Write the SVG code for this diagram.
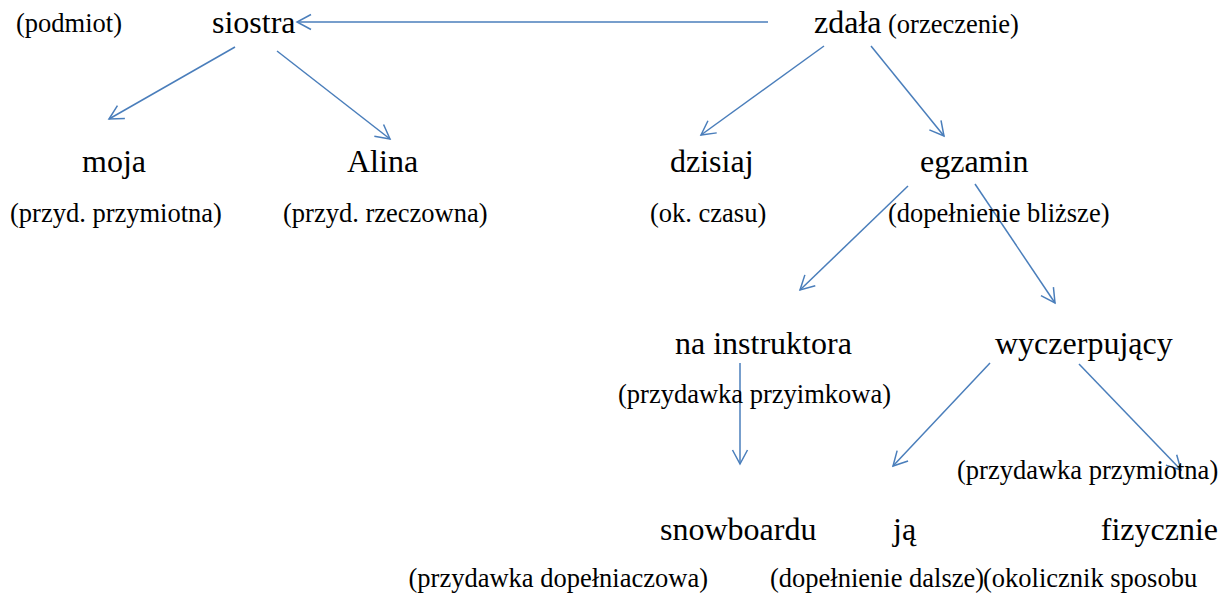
<svg xmlns="http://www.w3.org/2000/svg" width="1228" height="595" viewBox="0 0 1228 595">
<style>
.w{font-family:"Liberation Serif","Times New Roman",serif;font-size:32px;fill:#000}
.l{font-family:"Liberation Serif","Times New Roman",serif;font-size:26.5px;fill:#000}
.c{stroke:#4a7ebb;stroke-width:1.5;fill:none;marker-end:url(#ah)}
</style>
<defs>
<marker id="ah" markerUnits="userSpaceOnUse" markerWidth="18" markerHeight="18" viewBox="0 0 18 18" refX="16" refY="9" orient="auto">
<path d="M2,1.5 L16,9 L2,16.5" fill="none" stroke="#4a7ebb" stroke-width="1.5"/>
</marker>
</defs>
<rect width="1228" height="595" fill="#fff"/>
<g id="connectors">
<line class="c" x1="768" y1="22" x2="297" y2="22"/>
<line class="c" x1="235" y1="47" x2="109" y2="119"/>
<line class="c" x1="277" y1="51" x2="390" y2="139"/>
<line class="c" x1="824" y1="46" x2="701" y2="135"/>
<line class="c" x1="871" y1="46" x2="944" y2="136"/>
<line class="c" x1="908" y1="186" x2="800" y2="290"/>
<line class="c" x1="975" y1="184" x2="1055" y2="303"/>
<line class="c" x1="740" y1="363" x2="740" y2="464"/>
<line class="c" x1="990" y1="363" x2="893" y2="466"/>
<line class="c" x1="1079" y1="364" x2="1181" y2="470"/>
</g>
<g id="podmiot"><text class="l" x="16" y="32">(podmiot)</text></g>
<g id="siostra"><text class="w" x="212" y="33">siostra</text></g>
<g id="zdala"><text class="w" x="814" y="33">zdała</text><text class="l" x="888" y="33">(orzeczenie)</text></g>
<g id="moja"><text class="w" x="82" y="172">moja</text><text class="l" x="10" y="222">(przyd. przymiotna)</text></g>
<g id="alina"><text class="w" x="347" y="172">Alina</text><text class="l" x="283" y="222">(przyd. rzeczowna)</text></g>
<g id="dzisiaj"><text class="w" x="670" y="172">dzisiaj</text><text class="l" x="650" y="222">(ok. czasu)</text></g>
<g id="egzamin"><text class="w" x="920" y="172">egzamin</text><text class="l" x="888" y="222">(dopełnienie bliższe)</text></g>
<g id="na-instruktora"><text class="w" x="675" y="354">na instruktora</text><text class="l" x="618" y="403">(przydawka przyimkowa)</text></g>
<g id="wyczerpujacy"><text class="w" x="995" y="354">wyczerpujący</text><text class="l" x="957" y="479">(przydawka przymiotna)</text></g>
<g id="snowboardu"><text class="w" x="660" y="540">snowboardu</text><text class="l" x="708" y="587" text-anchor="end">(przydawka dopełniaczowa)</text></g>
<g id="ja"><text class="w" x="893" y="540">ją</text><text class="l" x="770" y="587">(dopełnienie dalsze)</text></g>
<g id="fizycznie"><text class="w" x="1218" y="540" text-anchor="end">fizycznie</text><text class="l" x="983" y="587">(okolicznik sposobu</text></g>
</svg>
